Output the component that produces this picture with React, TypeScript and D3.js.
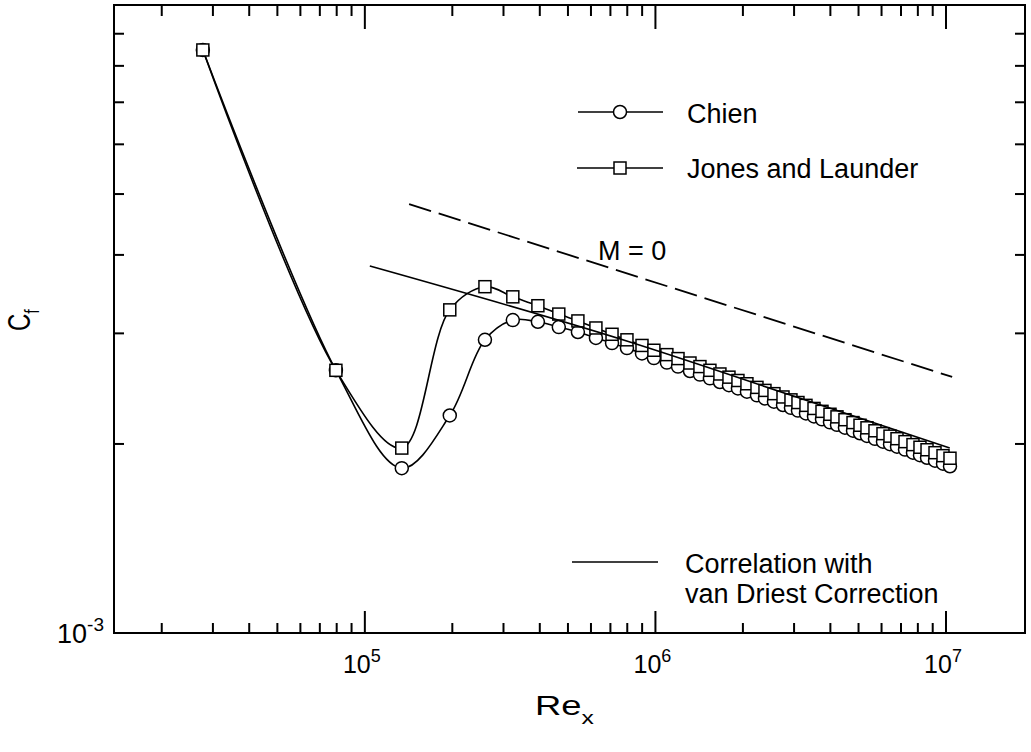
import React, { useEffect, useRef } from "react";
import * as d3 from "d3";

// Re_x stations shared by both computations
const reGrid = [
  2.77e4, 7.95e4, 1.34e5, 1.96e5, 2.59e5, 3.23e5, 3.94e5, 4.65e5, 5.41e5, 6.24e5,
  7.09e5, 7.98e5, 8.99e5, 9.88e5, 1.095e6, 1.196e6, 1.315e6, 1.423e6, 1.54e6, 1.667e6,
  1.791e6, 1.923e6, 2.065e6, 2.236e6, 2.382e6, 2.558e6, 2.748e6, 2.927e6, 3.094e6, 3.297e6,
  3.513e6, 3.743e6, 3.988e6, 4.215e6, 4.49e6, 4.786e6, 5.058e6, 5.346e6, 5.695e6, 6.069e6,
  6.416e6, 6.782e6, 7.226e6, 7.697e6, 8.136e6, 8.603e6, 9.165e6, 9.765e6, 1.032e7,
];

// C_f in units of 1e-3
const chienCf = [
  8.48, 2.62, 1.83, 2.22, 2.93, 3.15, 3.13, 3.07, 3.015, 2.95,
  2.895, 2.842, 2.787, 2.74, 2.695, 2.656, 2.613, 2.579, 2.544, 2.51,
  2.481, 2.451, 2.422, 2.39, 2.363, 2.335, 2.307, 2.283, 2.26, 2.237,
  2.212, 2.189, 2.165, 2.145, 2.123, 2.1, 2.08, 2.06, 2.038, 2.017,
  1.998, 1.98, 1.959, 1.937, 1.919, 1.901, 1.881, 1.86, 1.843,
];

const jonesCf = [
  8.48, 2.62, 1.97, 3.27, 3.56, 3.43, 3.32, 3.22, 3.14, 3.06,
  2.99, 2.93, 2.87, 2.82, 2.775, 2.735, 2.691, 2.656, 2.62, 2.585,
  2.555, 2.524, 2.494, 2.461, 2.434, 2.405, 2.376, 2.351, 2.328, 2.304,
  2.278, 2.254, 2.23, 2.209, 2.186, 2.163, 2.142, 2.122, 2.099, 2.077,
  2.058, 2.039, 2.017, 1.995, 1.976, 1.958, 1.937, 1.916, 1.898,
];

// correlation with van Driest correction (solid)
const correlationRe = [1.04e5, 8.17e5, 2.93e6, 1.03e7];
const correlationCf = [3.84e-3, 2.906e-3, 2.391e-3, 1.97e-3];

// M = 0 (dashed)
const m0Re = [1.42e5, 1.05e7];
const m0Cf = [4.82e-3, 2.557e-3];

const xLabelValues = [1e5, 1e6, 1e7];
const xLabelExps = ["5", "6", "7"];

export default function App() {
  const chartRef = useRef<SVGSVGElement>(null);

  useEffect(() => {
    document.body.style.margin = "0";
    const svg = d3.select(chartRef.current);
    svg.selectAll("*").remove();

    const left = 114;
    const right = 1025;
    const top = 5;
    const bottom = 633;
    const font = "'Liberation Sans', Arial, Helvetica, sans-serif";

    const x = d3.scaleLog().domain([1.37e4, 1.87e7]).range([left, right]);
    const y = d3.scaleLog().domain([1e-3, 1e-2]).range([bottom, top]);

    const isMajor = (v: number) =>
      Math.abs(Math.log10(v) - Math.round(Math.log10(v))) < 1e-6;

    // frame
    svg
      .append("rect")
      .attr("x", left)
      .attr("y", top)
      .attr("width", right - left)
      .attr("height", bottom - top)
      .attr("fill", "none")
      .attr("stroke", "#000")
      .attr("stroke-width", 2);

    const xTicks = x.ticks();
    const yTicks = y.ticks().filter((v) => !isMajor(v));

    const ticks = svg.append("g").attr("stroke", "#000").attr("stroke-width", 2);
    ticks
      .selectAll(".xb")
      .data(xTicks)
      .enter()
      .append("line")
      .attr("x1", (d) => x(d))
      .attr("x2", (d) => x(d))
      .attr("y1", bottom)
      .attr("y2", (d) => bottom - (isMajor(d) ? 22 : 10));
    ticks
      .selectAll(".xt")
      .data(xTicks)
      .enter()
      .append("line")
      .attr("x1", (d) => x(d))
      .attr("x2", (d) => x(d))
      .attr("y1", top)
      .attr("y2", (d) => top + (isMajor(d) ? 24 : 11));
    ticks
      .selectAll(".yl")
      .data(yTicks)
      .enter()
      .append("line")
      .attr("x1", left)
      .attr("x2", left + 10)
      .attr("y1", (d) => y(d))
      .attr("y2", (d) => y(d));
    ticks
      .selectAll(".yr")
      .data(yTicks)
      .enter()
      .append("line")
      .attr("x1", right)
      .attr("x2", right - 10)
      .attr("y1", (d) => y(d))
      .attr("y2", (d) => y(d));

    // tick labels
    xLabelValues.forEach((v, i) => {
      const t = svg
        .append("text")
        .attr("x", x(v) - 3)
        .attr("y", 673)
        .attr("text-anchor", "middle")
        .attr("font-family", font)
        .attr("font-size", 25)
        .text("10");
      t.append("tspan").attr("dy", -11).attr("font-size", 18).text(xLabelExps[i]);
    });

    const yl = svg
      .append("text")
      .attr("x", 104)
      .attr("y", y(1e-3) + 10)
      .attr("text-anchor", "end")
      .attr("font-family", font)
      .attr("font-size", 27)
      .text("10");
    yl.append("tspan").attr("dy", -12).attr("font-size", 19).text("-3");

    // axis titles
    const xt = svg
      .append("g")
      .attr("transform", "translate(535,715) scale(1.3,1)")
      .append("text")
      .attr("font-family", font)
      .attr("font-size", 28)
      .text("Re");
    xt.append("tspan").attr("dy", 9).attr("font-size", 19).text("x");

    const yt = svg
      .append("g")
      .attr("transform", "translate(30,331) scale(1.3,1) rotate(-90)")
      .append("text")
      .attr("font-family", font)
      .attr("font-size", 24)
      .text("C");
    yt.append("tspan").attr("dy", 7).attr("font-size", 16).text("f");

    const curveLine = (values: number[]) =>
      d3
        .line<number>()
        .x((d, i) => x(reGrid[i]))
        .y((d) => y(d * 1e-3))
        .curve(d3.curveCatmullRom.alpha(0.5))(values);

    svg
      .append("path")
      .attr("d", curveLine(chienCf))
      .attr("fill", "none")
      .attr("stroke", "#000")
      .attr("stroke-width", 1.6);
    svg
      .append("path")
      .attr("d", curveLine(jonesCf))
      .attr("fill", "none")
      .attr("stroke", "#000")
      .attr("stroke-width", 1.6);

    // reference lines
    const refLine = d3
      .line<number>()
      .x((d) => x(d[0]))
      .y((d) => y(d[1]))
      .curve(d3.curveMonotoneX);

    svg
      .append("path")
      .attr("d", refLine(m0Re.map((r, i) => [r, m0Cf[i]]) as any))
      .attr("fill", "none")
      .attr("stroke", "#000")
      .attr("stroke-width", 1.8)
      .attr("stroke-dasharray", "23,8");

    // markers
    svg
      .append("g")
      .selectAll("circle")
      .data(chienCf)
      .enter()
      .append("circle")
      .attr("cx", (d, i) => x(reGrid[i]))
      .attr("cy", (d) => y(d * 1e-3))
      .attr("r", 6.5)
      .attr("fill", "#fff")
      .attr("stroke", "#000")
      .attr("stroke-width", 1.5);

    svg
      .append("g")
      .selectAll("rect")
      .data(jonesCf)
      .enter()
      .append("rect")
      .attr("x", (d, i) => x(reGrid[i]) - 6)
      .attr("y", (d) => y(d * 1e-3) - 6)
      .attr("width", 12)
      .attr("height", 12)
      .attr("fill", "#fff")
      .attr("stroke", "#000")
      .attr("stroke-width", 1.5);

    svg
      .append("path")
      .attr("d", refLine(correlationRe.map((r, i) => [r, correlationCf[i]]) as any))
      .attr("fill", "none")
      .attr("stroke", "#000")
      .attr("stroke-width", 1.6);

    // legend
    const legend = svg.append("g").attr("font-family", font).attr("font-size", 27);
    legend
      .append("line")
      .attr("x1", 578)
      .attr("x2", 663)
      .attr("y1", 112)
      .attr("y2", 112)
      .attr("stroke", "#000")
      .attr("stroke-width", 1.6);
    legend
      .append("circle")
      .attr("cx", 620)
      .attr("cy", 112)
      .attr("r", 6.5)
      .attr("fill", "#fff")
      .attr("stroke", "#000")
      .attr("stroke-width", 1.5);
    legend.append("text").attr("x", 687).attr("y", 123).text("Chien");

    legend
      .append("line")
      .attr("x1", 577)
      .attr("x2", 663)
      .attr("y1", 168)
      .attr("y2", 168)
      .attr("stroke", "#000")
      .attr("stroke-width", 1.6);
    legend
      .append("rect")
      .attr("x", 614)
      .attr("y", 162)
      .attr("width", 12)
      .attr("height", 12)
      .attr("fill", "#fff")
      .attr("stroke", "#000")
      .attr("stroke-width", 1.5);
    legend.append("text").attr("x", 687).attr("y", 178).text("Jones and Launder");

    legend.append("text").attr("x", 598).attr("y", 260).text("M = 0");

    legend
      .append("line")
      .attr("x1", 572)
      .attr("x2", 658)
      .attr("y1", 562)
      .attr("y2", 562)
      .attr("stroke", "#000")
      .attr("stroke-width", 1.6);
    legend.append("text").attr("x", 685).attr("y", 573).text("Correlation with");
    legend.append("text").attr("x", 685).attr("y", 603).text("van Driest Correction");
  }, []);

  return (
    <div>
      <svg ref={chartRef} width="1031" height="752" style={{ display: "block" }}></svg>
    </div>
  );
}
